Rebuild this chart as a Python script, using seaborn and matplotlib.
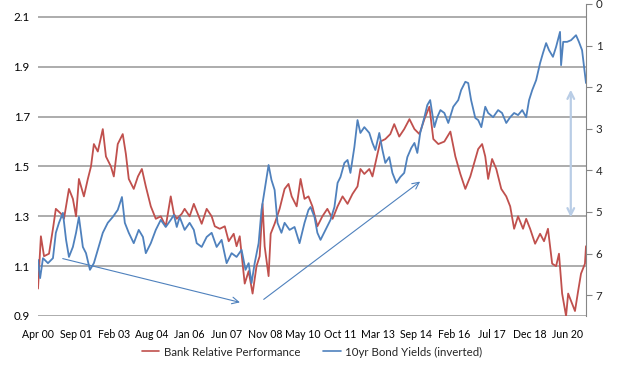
import numpy as np
import pandas as pd
import matplotlib
matplotlib.use('Agg')
import matplotlib.pyplot as plt
import seaborn as sns

# ---- data (decimal years) ----
red_t = [2000.25, 2000.36, 2000.48, 2000.67, 2000.82, 2000.93, 2001.13, 2001.24,
         2001.43, 2001.58, 2001.70, 2001.81, 2002.00, 2002.15, 2002.27, 2002.38,
         2002.53, 2002.72, 2002.84, 2003.03, 2003.14, 2003.29, 2003.48, 2003.60,
         2003.71, 2003.90, 2004.06, 2004.21, 2004.36, 2004.55, 2004.74, 2004.93,
         2005.12, 2005.31, 2005.43, 2005.54, 2005.73, 2005.84, 2006.03, 2006.19,
         2006.38, 2006.49, 2006.68, 2006.87, 2006.99, 2007.18, 2007.37, 2007.52,
         2007.71, 2007.82, 2007.94, 2008.13, 2008.28, 2008.43, 2008.58, 2008.70,
         2008.81, 2008.89, 2009.04, 2009.12, 2009.27, 2009.46, 2009.65, 2009.80,
         2009.92, 2010.11, 2010.26, 2010.41, 2010.56, 2010.71, 2010.90, 2011.09,
         2011.28, 2011.48, 2011.67, 2011.86, 2012.05, 2012.24, 2012.43, 2012.54,
         2012.69, 2012.88, 2013.00, 2013.19, 2013.30, 2013.49, 2013.68, 2013.83,
         2014.02, 2014.21, 2014.41, 2014.60, 2014.79, 2014.98, 2015.17, 2015.32,
         2015.51, 2015.74, 2015.97, 2016.16, 2016.35, 2016.54, 2016.73, 2016.92,
         2017.03, 2017.18, 2017.30, 2017.41, 2017.56, 2017.72, 2017.91, 2018.10,
         2018.25, 2018.40, 2018.55, 2018.74, 2018.86, 2019.01, 2019.20, 2019.39,
         2019.54, 2019.69, 2019.85, 2020.00, 2020.11, 2020.23, 2020.38, 2020.46,
         2020.57, 2020.72, 2020.84, 2020.95, 2021.10, 2021.14]
bank_rel = [1.01, 1.22, 1.14, 1.15, 1.25, 1.33, 1.31, 1.29,
            1.41, 1.37, 1.30, 1.45, 1.38, 1.45, 1.50, 1.59,
            1.56, 1.65, 1.54, 1.50, 1.46, 1.59, 1.63, 1.55,
            1.45, 1.41, 1.46, 1.49, 1.42, 1.34, 1.29, 1.30,
            1.26, 1.38, 1.31, 1.29, 1.31, 1.33, 1.30, 1.35,
            1.30, 1.27, 1.33, 1.30, 1.26, 1.25, 1.26, 1.20,
            1.23, 1.18, 1.22, 1.03, 1.08, 0.99, 1.10, 1.14,
            1.35, 1.18, 1.06, 1.23, 1.27, 1.33, 1.41, 1.43,
            1.38, 1.34, 1.45, 1.37, 1.38, 1.34, 1.26, 1.30,
            1.33, 1.29, 1.34, 1.38, 1.35, 1.39, 1.42, 1.49,
            1.47, 1.49, 1.46, 1.55, 1.60, 1.61, 1.63, 1.67,
            1.62, 1.65, 1.69, 1.65, 1.63, 1.69, 1.74, 1.61,
            1.59, 1.60, 1.64, 1.54, 1.47, 1.41, 1.46, 1.53,
            1.57, 1.59, 1.54, 1.45, 1.53, 1.49, 1.41, 1.38,
            1.34, 1.25, 1.30, 1.25, 1.29, 1.25, 1.19, 1.23,
            1.20, 1.25, 1.11, 1.10, 1.15, 0.99, 0.90, 0.99,
            0.96, 0.92, 1.00, 1.07, 1.11, 1.18]

blue_t = [2000.25, 2000.33, 2000.44, 2000.63, 2000.82, 2000.93, 2001.05, 2001.20,
          2001.32, 2001.43, 2001.58, 2001.70, 2001.81, 2001.96, 2002.08, 2002.23,
          2002.38, 2002.53, 2002.72, 2002.91, 2003.10, 2003.29, 2003.45, 2003.56,
          2003.71, 2003.90, 2004.09, 2004.25, 2004.36, 2004.55, 2004.74, 2004.93,
          2005.12, 2005.31, 2005.43, 2005.54, 2005.65, 2005.84, 2006.03, 2006.19,
          2006.30, 2006.49, 2006.68, 2006.87, 2007.06, 2007.25, 2007.44, 2007.63,
          2007.82, 2008.01, 2008.16, 2008.28, 2008.39, 2008.51, 2008.66, 2008.77,
          2008.89, 2009.04, 2009.15, 2009.27, 2009.38, 2009.53, 2009.65, 2009.84,
          2010.03, 2010.22, 2010.41, 2010.56, 2010.64, 2010.79, 2010.90, 2011.02,
          2011.21, 2011.40, 2011.55, 2011.67, 2011.78, 2011.93, 2012.05, 2012.16,
          2012.31, 2012.43, 2012.54, 2012.69, 2012.88, 2013.00, 2013.11, 2013.26,
          2013.38, 2013.49, 2013.64, 2013.76, 2013.91, 2014.06, 2014.21, 2014.33,
          2014.48, 2014.60, 2014.71, 2014.82, 2014.98, 2015.09, 2015.20, 2015.36,
          2015.47, 2015.59, 2015.74, 2015.89, 2016.08, 2016.27, 2016.38, 2016.54,
          2016.65, 2016.76, 2016.92, 2017.03, 2017.15, 2017.30, 2017.41, 2017.60,
          2017.79, 2017.94, 2018.10, 2018.25, 2018.40, 2018.55, 2018.71, 2018.86,
          2018.97, 2019.09, 2019.24, 2019.39, 2019.50, 2019.62, 2019.73, 2019.88,
          2020.00, 2020.15, 2020.19, 2020.27, 2020.42, 2020.57, 2020.76, 2020.87,
          2020.99, 2021.14]
bond_yield = [6.15, 6.59, 6.11, 6.23, 6.11, 5.50, 5.26, 5.02,
              5.67, 6.08, 5.84, 5.50, 5.12, 5.84, 5.99, 6.39,
              6.23, 5.91, 5.50, 5.26, 5.12, 4.95, 4.64, 5.26,
              5.50, 5.75, 5.43, 5.60, 5.99, 5.75, 5.43, 5.19,
              5.36, 5.19, 5.07, 5.36, 5.12, 5.43, 5.26, 5.43,
              5.75, 5.84, 5.60, 5.50, 5.84, 5.67, 6.23, 5.99,
              6.08, 5.91, 6.39, 6.23, 6.71, 6.23, 5.75, 4.95,
              4.47, 3.87, 4.23, 4.47, 5.26, 5.50, 5.26, 5.43,
              5.36, 5.75, 5.26, 4.95, 4.88, 5.12, 5.50, 5.67,
              5.43, 5.19, 4.88, 4.30, 4.16, 3.82, 3.75, 4.06,
              3.44, 2.79, 3.10, 2.96, 3.10, 3.34, 3.51, 3.10,
              3.51, 3.82, 3.68, 4.06, 4.30, 4.16, 4.06, 3.68,
              3.46, 3.34, 3.58, 3.10, 2.72, 2.43, 2.31, 2.96,
              2.72, 2.55, 2.62, 2.86, 2.47, 2.31, 2.07, 1.87,
              1.90, 2.31, 2.74, 2.79, 2.96, 2.47, 2.62, 2.72,
              2.55, 2.62, 2.86, 2.72, 2.62, 2.67, 2.55, 2.72,
              2.31, 2.07, 1.83, 1.42, 1.18, 0.94, 1.11, 1.27,
              1.03, 0.67, 1.47, 0.91, 0.91, 0.87, 0.75, 0.91,
              1.11, 1.90]

tick_labels = ['Apr 00', 'Sep 01', 'Feb 03', 'Aug 04', 'Jan 06', 'Jun 07', 'Nov 08',
               'May 10', 'Oct 11', 'Mar 13', 'Sep 14', 'Feb 16', 'Jul 17', 'Dec 18', 'Jun 20']
first_tick, last_tick = 2000.25, 2020.42

RED = '#C0504D'
BLUE = '#4F81BD'

sns.set_theme(style='white')
plt.rcParams['font.family'] = ['Lato', 'DejaVu Sans']

fig = plt.figure(figsize=(6.19, 3.68), dpi=100)
ax = fig.add_axes([38 / 619, 52 / 368, 548 / 619, 312 / 368])
ax2 = ax.twinx()

red_df = pd.DataFrame({'t': red_t, 'v': bank_rel})
blue_df = pd.DataFrame({'t': blue_t, 'v': bond_yield})
sns.lineplot(data=red_df, x='t', y='v', ax=ax, color=RED, lw=1.3)
sns.lineplot(data=blue_df, x='t', y='v', ax=ax2, color=BLUE, lw=1.3)

# left axis
ax.set_xlim(2000.25, 2021.14)
ax.set_ylim(0.9, 2.152)
ax.set_yticks(np.arange(0.9, 2.11, 0.2))
ax.set_yticklabels([f'{v:.1f}' for v in np.arange(0.9, 2.11, 0.2)])
ax.grid(axis='y', color='#a6a6a6', lw=1.3)
ax.grid(axis='x', visible=False)
ax.set_xticks(np.linspace(first_tick, last_tick, len(tick_labels)))
ax.set_xticklabels(tick_labels)
ax.tick_params(axis='both', length=0, colors='black')
ax.tick_params(axis='y', pad=6, labelsize=8.3)
ax.tick_params(axis='x', pad=9, labelsize=7.6)
ax.set_xlabel('')
ax.set_ylabel('')
for s in ax.spines.values():
    s.set_visible(False)

# right axis (inverted yields)
ax2.set_ylim(7.5, 0)
ax2.set_yticks(range(0, 8))
ax2.set_ylabel('')
ax2.grid(False)
ax2.tick_params(axis='y', length=4, width=0.8, color='#868686', labelsize=8.3, pad=3)
for k, s in ax2.spines.items():
    s.set_visible(k == 'right')
ax2.spines['right'].set_color('#868686')
ax2.spines['right'].set_linewidth(0.8)

# annotation arrows
ax.annotate('', xy=(2008.05, 0.952), xytext=(2001.09, 1.133),
            arrowprops=dict(arrowstyle='->', color=BLUE, lw=0.8))
ax.annotate('', xy=(2014.90, 1.446), xytext=(2008.77, 0.96),
            arrowprops=dict(arrowstyle='->', color=BLUE, lw=0.8))
ax.annotate('', xy=(2020.56, 1.819), xytext=(2020.56, 1.285),
            arrowprops=dict(arrowstyle='<->', color='#b9cde6', lw=1.6))

handles = [plt.Line2D([], [], color=RED, lw=1.2), plt.Line2D([], [], color=BLUE, lw=1.2)]
fig.legend(handles, ['Bank Relative Performance', '10yr Bond Yields (inverted)'],
           loc='center', bbox_to_anchor=(312 / 619, 1 - 352 / 368), ncol=2, frameon=False,
           fontsize=8.3, handlelength=1.5, handletextpad=0.4, columnspacing=2.0)

fig.savefig('out.png', dpi=100)
